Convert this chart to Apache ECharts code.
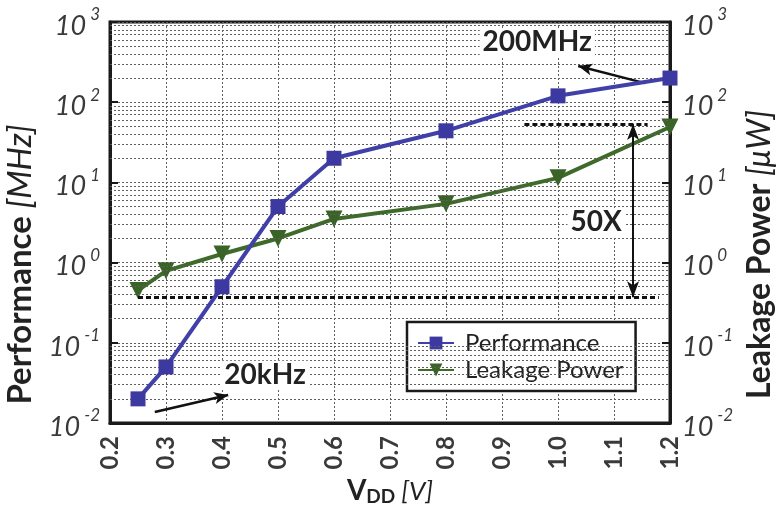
<!DOCTYPE html>
<html>
<head>
<meta charset="utf-8">
<script src="https://cdn.jsdelivr.net/npm/echarts@6/dist/echarts.min.js"></script>
<style>
  html, body { margin: 0; padding: 0; background: #fff; }
  #chart { width: 776px; height: 508px; }
</style>
</head>
<body>
<div id="chart"></div>
<script>
// Supply voltage sweep (V)
const vdd = [0.25, 0.3, 0.4, 0.5, 0.6, 0.8, 1.0, 1.2];
// Operating frequency (MHz)
const performance = [0.02, 0.05, 0.5, 5, 20, 44, 120, 200];
// Leakage power (uW)
const leakage = [0.45, 0.79, 1.28, 2.0, 3.5, 5.4, 11.4, 49];
// X tick labels
const xTicks = ['0.2', '0.3', '0.4', '0.5', '0.6', '0.7', '0.8', '0.9', '1.0', '1.1', '1.2'];
// Leakage reference levels bracketing the 50X span
const leakLow = 0.37;
const leakHigh = 53.5;

const FONT = 'Lato, "Open Sans", sans-serif';
const BLUE = '#4040a8';
const GREEN = '#3e6a2a';

// minor log grid lines: 2..9 within each decade
const minorGrid = [];
for (let e = -2; e < 3; e++) {
  for (let m = 2; m <= 9; m++) minorGrid.push(m * Math.pow(10, e));
}

const logLabel = {
  formatter: function (v) {
    const e = Math.round(Math.log10(v));
    return '{b|10}{s|' + e + '}';
  },
  rich: {
    b: { fontSize: 27, fontStyle: 'italic', color: '#3a3a3a', fontFamily: FONT, padding: [8, 4, 0, 0] },
    s: { fontSize: 17, fontStyle: 'italic', color: '#3a3a3a', fontFamily: FONT, padding: [0, 0, 14, 0] }
  }
};

const dotted = { type: [2, 2], color: '#5e5e5e', width: 1 };

const chart = echarts.init(document.getElementById('chart'));
chart.setOption({
  animation: false,
  backgroundColor: '#fff',
  grid: {
    left: 110, right: 106, top: 22, bottom: 85,
    outerBoundsMode: 'none',
    containLabel: false,
    show: true, borderColor: '#1a1a1a', borderWidth: 3, backgroundColor: 'transparent'
  },
  legend: {
    data: ['Performance', 'Leakage Power'],
    orient: 'vertical',
    left: 407, top: 322,
    padding: [9, 12, 9, 10],
    itemGap: 3,
    itemWidth: 36, itemHeight: 16,
    backgroundColor: '#fff',
    borderColor: '#1a1a1a', borderWidth: 2.5, borderRadius: 0,
    textStyle: { fontSize: 24, color: '#222', fontFamily: FONT, padding: [0, 0, 0, 6] }
  },
  xAxis: {
    type: 'value',
    min: 0.2, max: 1.2, interval: 0.1,
    name: '{b|V}{sub|DD}{i| [V]}',
    nameLocation: 'middle',
    nameGap: 48,
    nameTextStyle: {
      rich: {
        b: { fontSize: 28, fontWeight: 'bold', color: '#222', fontFamily: FONT },
        sub: { fontSize: 19, fontWeight: 'bold', color: '#222', fontFamily: FONT, padding: [10, 0, 0, 0] },
        i: { fontSize: 26, fontStyle: 'italic', color: '#222', fontFamily: FONT }
      }
    },
    axisLine: { show: true, lineStyle: { color: '#1a1a1a', width: 3 } },
    axisTick: { show: false },
    axisLabel: {
      rotate: 90,
      fontSize: 24, fontWeight: 'bold', color: '#3a3a3a', fontFamily: FONT, margin: 13,
      formatter: function (v) {
        const i = Math.round((v - 0.2) * 10);
        return xTicks[i] !== undefined ? xTicks[i] : '';
      }
    },
    splitLine: { show: true, lineStyle: dotted }
  },
  yAxis: [
    {
      type: 'log', logBase: 10, min: 0.01, max: 1000,
      name: '{b|Performance}{i| [MHz]}',
      nameLocation: 'middle',
      nameGap: 73,
      nameTextStyle: {
        padding: [0, 84, 0, 0],
        rich: {
          b: { fontSize: 33, fontWeight: 'bold', color: '#222', fontFamily: FONT },
          i: { fontSize: 33, fontStyle: 'italic', color: '#222', fontFamily: FONT }
        }
      },
      axisLine: { show: true, lineStyle: { color: '#1a1a1a', width: 3 } },
      axisTick: { show: true, inside: true, length: 8, lineStyle: { color: '#1a1a1a', width: 2 } },
      axisLabel: Object.assign({ margin: 10 }, logLabel),
      splitLine: { show: true, lineStyle: dotted }
    },
    {
      type: 'log', logBase: 10, min: 0.01, max: 1000,
      position: 'right',
      name: '{b|Leakage Power}{i| [\u03bcW]}',
      nameLocation: 'middle',
      nameGap: 72,
      nameRotate: 90,
      nameTextStyle: {
        padding: [0, 64, 0, 0],
        rich: {
          b: { fontSize: 32, fontWeight: 'bold', color: '#222', fontFamily: FONT },
          i: { fontSize: 32, fontStyle: 'italic', color: '#222', fontFamily: FONT }
        }
      },
      axisLine: { show: true, lineStyle: { color: '#1a1a1a', width: 3 } },
      axisTick: { show: true, inside: true, length: 8, lineStyle: { color: '#1a1a1a', width: 2 } },
      axisLabel: Object.assign({ margin: 12 }, logLabel),
      splitLine: { show: false }
    }
  ],
  series: [
    {
      // minor horizontal grid
      name: 'grid',
      type: 'line',
      data: [],
      z: 1,
      silent: true,
      markLine: {
        silent: true,
        symbol: ['none', 'none'],
        label: { show: false },
        lineStyle: dotted,
        data: minorGrid.map(v => ({ yAxis: v }))
      }
    },
    {
      // 50X reference levels and span arrow
      name: 'ref',
      type: 'line',
      yAxisIndex: 1,
      data: [],
      z: 3,
      silent: true,
      markLine: {
        silent: true,
        symbol: ['none', 'none'],
        label: { show: false },
        lineStyle: { type: [5, 3], color: '#111', width: 3 },
        data: [
          [{ coord: [0.25, leakLow] }, { coord: [1.18, leakLow] }],
          [{ coord: [0.94, leakHigh] }, { coord: [1.16, leakHigh] }],
          [
            { coord: [1.134, leakLow], symbol: 'arrow', symbolSize: [9, 16],
              lineStyle: { type: 'solid', width: 2 } },
            { coord: [1.134, leakHigh], symbol: 'arrow', symbolSize: [9, 16],
              lineStyle: { type: 'solid', width: 2 } }
          ]
        ]
      },
      markPoint: {
        silent: true,
        symbol: 'rect', symbolSize: 1,
        itemStyle: { color: 'rgba(0,0,0,0)' },
        label: {
          show: true, position: 'inside',
          fontSize: 28, fontWeight: 'bold', color: '#222', fontFamily: FONT,
          backgroundColor: '#fff', padding: [0, 3]
        },
        data: [{ coord: [1.068, 3.2], value: '50X' }]
      }
    },
    {
      name: 'Performance',
      type: 'line',
      data: vdd.map((x, i) => [x, performance[i]]),
      z: 5,
      symbol: 'rect',
      symbolSize: 15,
      lineStyle: { color: BLUE, width: 4 },
      itemStyle: { color: '#3c3aa0' },
      markLine: {
        silent: true,
        symbol: ['none', 'arrow'],
        symbolSize: [9, 14],
        label: { show: false },
        lineStyle: { type: 'solid', color: '#111', width: 2.5 },
        data: [
          [{ coord: [1.155, 173] }, { coord: [1.036, 283] }],
          [{ coord: [0.280, 0.0137] }, { coord: [0.411, 0.0224] }]
        ]
      },
      markPoint: {
        silent: true,
        symbol: 'rect', symbolSize: 1,
        itemStyle: { color: 'rgba(0,0,0,0)' },
        label: {
          show: true, position: 'inside',
          fontWeight: 'bold', color: '#222', fontFamily: FONT,
          backgroundColor: '#fff', padding: [0, 3]
        },
        data: [
          { coord: [0.963, 560], value: '200MHz', label: { fontSize: 28 } },
          { coord: [0.477, 0.04], value: '20kHz', label: { fontSize: 28 } }
        ]
      }
    },
    {
      name: 'Leakage Power',
      type: 'line',
      yAxisIndex: 1,
      data: vdd.map((x, i) => [x, leakage[i]]),
      z: 4,
      symbol: 'triangle',
      symbolRotate: 180,
      symbolSize: 17,
      lineStyle: { color: GREEN, width: 4 },
      itemStyle: { color: '#3a6328' }
    }
  ]
});
</script>
</body>
</html>
